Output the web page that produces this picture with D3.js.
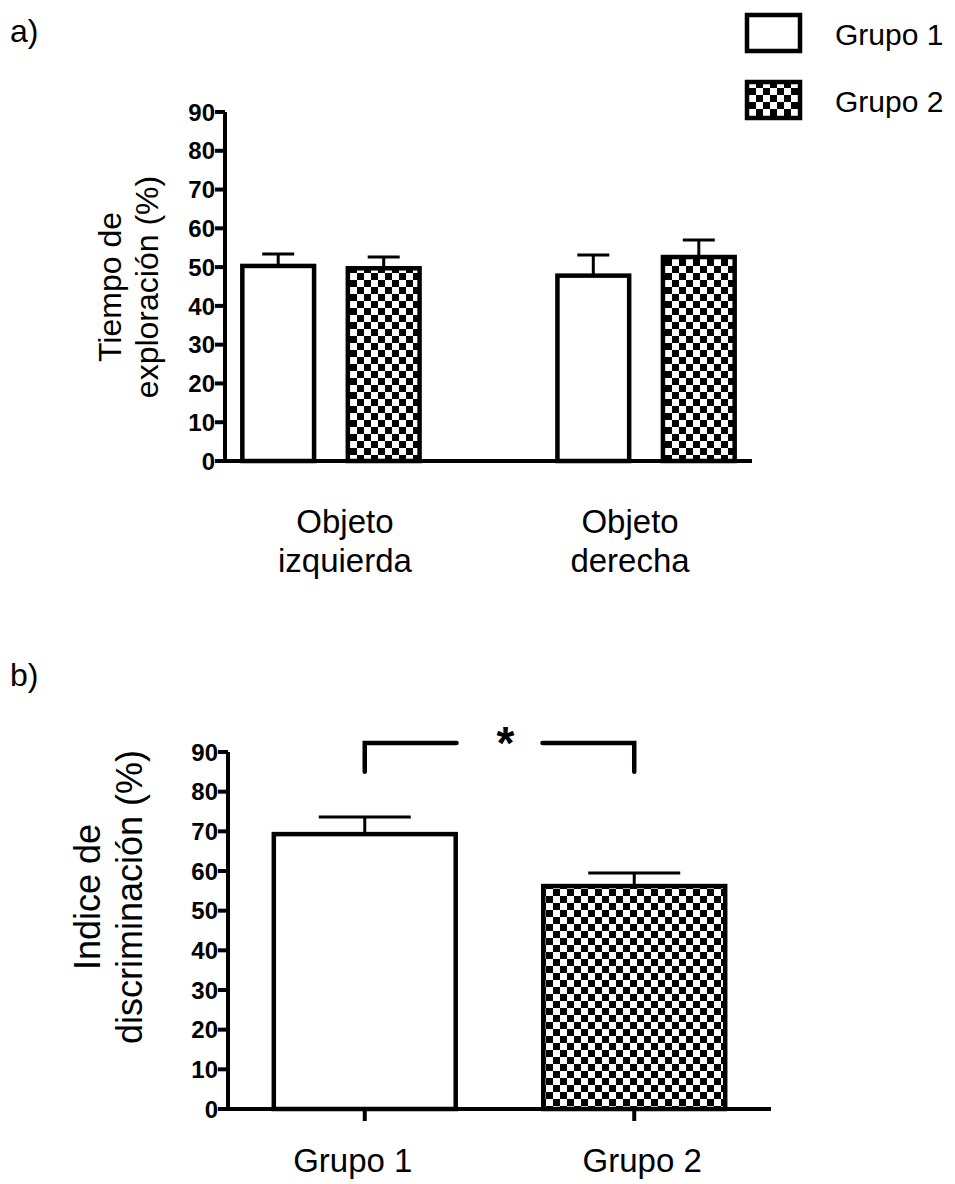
<!DOCTYPE html>
<html>
<head>
<meta charset="utf-8">
<script src="https://cdn.jsdelivr.net/npm/d3@7"></script>
<style>
  html, body { margin: 0; padding: 0; background: #fff; }
  svg { display: block; font-family: "Liberation Sans", Arial, sans-serif; }
</style>
</head>
<body>
<div id="canvas"></div>
<script>
(function (d3) {
  // data
  var series = ['Grupo 1', 'Grupo 2'];
  var objetos = ['Objeto izquierda', 'Objeto derecha'];
  var exploracion = [50.3, 49.7, 47.8, 52.6];      // izq G1, izq G2, der G1, der G2
  var exploracionErr = [3.1, 2.9, 5.3, 4.4];
  var discriminacion = [69.3, 56.2];               // Grupo 1, Grupo 2
  var discriminacionErr = [4.3, 3.3];
  var yTicks = [0, 10, 20, 30, 40, 50, 60, 70, 80, 90];
  var signif = { from: 'Grupo 1', to: 'Grupo 2', top: 92.3, bottom: 85, label: '*' };

  var W = 955, H = 1184;
  var svg;

  init();

  function init () {
    createSvg();
    createPatterns();
    drawPanelA();
    drawPanelB();
    drawLegend();
  }

  function createSvg () {
    svg = d3.select('#canvas')
      .append('svg')
      .attr('width', W)
      .attr('height', H);
    svg.append('rect').attr('width', W).attr('height', H).attr('fill', '#fff');
  }

  function createPatterns () {
    var cell = 7;
    var p = svg.append('defs')
      .append('pattern')
      .attr('id', 'checker')
      .attr('patternUnits', 'userSpaceOnUse')
      .attr('width', cell * 2)
      .attr('height', cell * 2);
    p.append('rect').attr('width', cell * 2).attr('height', cell * 2).attr('fill', '#fff');
    p.append('rect').attr('width', cell).attr('height', cell).attr('fill', '#000');
    p.append('rect').attr('x', cell).attr('y', cell).attr('width', cell).attr('height', cell).attr('fill', '#000');
  }

  function fillFor (s) {
    return s === 'Grupo 1' ? '#fff' : 'url(#checker)';
  }

  function yAxis (g, y, x0) {
    g.append('line')
      .attr('x1', x0).attr('x2', x0)
      .attr('y1', y(0) + 2).attr('y2', y(90))
      .attr('stroke', '#000').attr('stroke-width', 4);
    var t = g.append('g').selectAll('g')
      .data(yTicks)
      .enter()
      .append('g')
      .attr('transform', function (d) { return 'translate(0,' + y(d) + ')'; });
    t.append('line')
      .attr('x1', x0 - 10).attr('x2', x0)
      .attr('stroke', '#000').attr('stroke-width', 4);
    t.append('text')
      .attr('x', x0 - 10)
      .attr('dy', '0.36em')
      .attr('text-anchor', 'end')
      .style('font-size', '24px')
      .style('font-weight', 'bold')
      .text(function (d) { return d; });
  }

  function errorBars (g, rows, bw, capW) {
    var e = g.append('g').selectAll('g')
      .data(rows)
      .enter()
      .append('g');
    e.append('line')
      .attr('x1', function (d) { return d.x + bw / 2; })
      .attr('x2', function (d) { return d.x + bw / 2; })
      .attr('y1', function (d) { return d.yTop; })
      .attr('y2', function (d) { return d.yCap; })
      .attr('stroke', '#000').attr('stroke-width', 3);
    e.append('line')
      .attr('x1', function (d) { return d.x + bw / 2 - capW / 2; })
      .attr('x2', function (d) { return d.x + bw / 2 + capW / 2; })
      .attr('y1', function (d) { return d.yCap; })
      .attr('y2', function (d) { return d.yCap; })
      .attr('stroke', '#000').attr('stroke-width', 3);
  }

  function drawPanelA () {
    var g = svg.append('g');
    var y = d3.scaleLinear().domain([0, 90]).range([461, 112]);
    var x0 = d3.scaleBand().domain(objetos).range([225, 752]).paddingInner(0.4375).paddingOuter(0.055);
    var x1 = d3.scaleBand().domain(series).range([0, x0.bandwidth()]).paddingInner(0.32);
    var bw = x1.bandwidth();
    var mid = (x0.range()[0] + x0.range()[1]) / 2;

    var rows = [];
    objetos.forEach(function (o, i) {
      series.forEach(function (s, j) {
        var k = i * series.length + j;
        rows.push({
          obj: o, s: s,
          x: x0(o) + x1(s),
          yTop: y(exploracion[k]),
          yCap: y(exploracion[k] + exploracionErr[k])
        });
      });
    });

    errorBars(g, rows, bw, 32);

    g.append('g').selectAll('rect')
      .data(rows)
      .enter()
      .append('rect')
      .attr('x', function (d) { return d.x; })
      .attr('y', function (d) { return d.yTop; })
      .attr('width', bw)
      .attr('height', function (d) { return y(0) - d.yTop; })
      .attr('fill', function (d) { return fillFor(d.s); })
      .attr('stroke', '#000')
      .attr('stroke-width', 4.5);

    // x axis
    g.append('line')
      .attr('x1', 223).attr('x2', 752)
      .attr('y1', y(0)).attr('y2', y(0))
      .attr('stroke', '#000').attr('stroke-width', 4);

    yAxis(g, y, 225);

    // category labels, two lines, pulled a little toward the middle
    g.append('g').selectAll('text')
      .data(objetos)
      .enter()
      .append('text')
      .attr('text-anchor', 'middle')
      .style('font-size', '33px')
      .each(function (d) {
        var parts = d.split(' ');
        var cx = x0(d) + x0.bandwidth() / 2;
        cx += cx < mid ? 14 : -16;
        var t = d3.select(this);
        parts.forEach(function (p, i) {
          t.append('tspan')
            .attr('x', cx)
            .attr('y', 533 + i * 39)
            .text(p);
        });
      });

    // y title
    var yt = g.append('text')
      .attr('transform', 'translate(0,287) rotate(-90)')
      .attr('text-anchor', 'middle')
      .style('font-size', '32px');
    yt.append('tspan').attr('x', 0).attr('y', 121).text('Tiempo de');
    yt.append('tspan').attr('x', 0).attr('y', 158).text('exploración (%)');

    g.append('text')
      .attr('x', 10).attr('y', 42)
      .style('font-size', '32px')
      .text('a)');
  }

  function drawPanelB () {
    var g = svg.append('g');
    var y = d3.scaleLinear().domain([0, 90]).range([1109, 752]);
    var x = d3.scaleBand().domain(series).range([228, 771]).paddingInner(0.325).paddingOuter(0.17);
    var bw = x.bandwidth();

    var rows = series.map(function (s, i) {
      return {
        s: s,
        x: x(s),
        yTop: y(discriminacion[i]),
        yCap: y(discriminacion[i] + discriminacionErr[i])
      };
    });

    errorBars(g, rows, bw, 92);

    g.append('g').selectAll('rect')
      .data(rows)
      .enter()
      .append('rect')
      .attr('x', function (d) { return d.x; })
      .attr('y', function (d) { return d.yTop; })
      .attr('width', bw)
      .attr('height', function (d) { return y(0) - d.yTop; })
      .attr('fill', function (d) { return fillFor(d.s); })
      .attr('stroke', '#000')
      .attr('stroke-width', 4.5);

    // x axis with ticks below at bar centres
    g.append('line')
      .attr('x1', 226).attr('x2', 771)
      .attr('y1', y(0)).attr('y2', y(0))
      .attr('stroke', '#000').attr('stroke-width', 4);
    g.append('g').selectAll('line')
      .data(series)
      .enter()
      .append('line')
      .attr('x1', function (d) { return x(d) + bw / 2; })
      .attr('x2', function (d) { return x(d) + bw / 2; })
      .attr('y1', y(0)).attr('y2', y(0) + 12)
      .attr('stroke', '#000').attr('stroke-width', 4);
    g.append('g').selectAll('text')
      .data(series)
      .enter()
      .append('text')
      .attr('x', function (d, i) { return x(d) + bw / 2 + (i === 0 ? -12 : 8); })
      .attr('y', 1172)
      .attr('text-anchor', 'middle')
      .style('font-size', '33px')
      .text(function (d) { return d; });

    yAxis(g, y, 228);

    // significance bracket
    var xa = x(signif.from) + bw / 2;
    var xb = x(signif.to) + bw / 2;
    var xm = (xa + xb) / 2;
    var gap = 43;
    g.append('path')
      .attr('d', 'M' + xa + ',' + y(signif.bottom) + 'V' + y(signif.top) + 'H' + (xm - gap))
      .attr('fill', 'none').attr('stroke', '#000').attr('stroke-width', 4.5)
      .attr('stroke-linecap', 'round');
    g.append('path')
      .attr('d', 'M' + (xm + gap) + ',' + y(signif.top) + 'H' + xb + 'V' + y(signif.bottom))
      .attr('fill', 'none').attr('stroke', '#000').attr('stroke-width', 4.5)
      .attr('stroke-linecap', 'round');
    g.append('text')
      .attr('x', xm + 6)
      .attr('y', y(signif.top) + 16)
      .attr('text-anchor', 'middle')
      .style('font-size', '46px')
      .style('font-weight', 'bold')
      .text(signif.label);

    var yt = g.append('text')
      .attr('transform', 'translate(0,897) rotate(-90)')
      .attr('text-anchor', 'middle')
      .style('font-size', '36px');
    yt.append('tspan').attr('x', 0).attr('y', 100).text('Indice de');
    yt.append('tspan').attr('x', 0).attr('y', 142).text('discriminación (%)');

    g.append('text')
      .attr('x', 10).attr('y', 686)
      .style('font-size', '32px')
      .text('b)');
  }

  function drawLegend () {
    var g = svg.append('g');
    var rows = g.selectAll('g')
      .data(series)
      .enter()
      .append('g')
      .attr('transform', function (d, i) { return 'translate(0,' + (i * 67) + ')'; });
    rows.append('rect')
      .attr('x', 747).attr('y', 15)
      .attr('width', 53).attr('height', 36)
      .attr('fill', function (d) { return fillFor(d); })
      .attr('stroke', '#000').attr('stroke-width', 4.5);
    rows.append('text')
      .attr('x', 835).attr('y', 45)
      .style('font-size', '30px')
      .text(function (d) { return d; });
  }
})(window.d3);
</script>
</body>
</html>
